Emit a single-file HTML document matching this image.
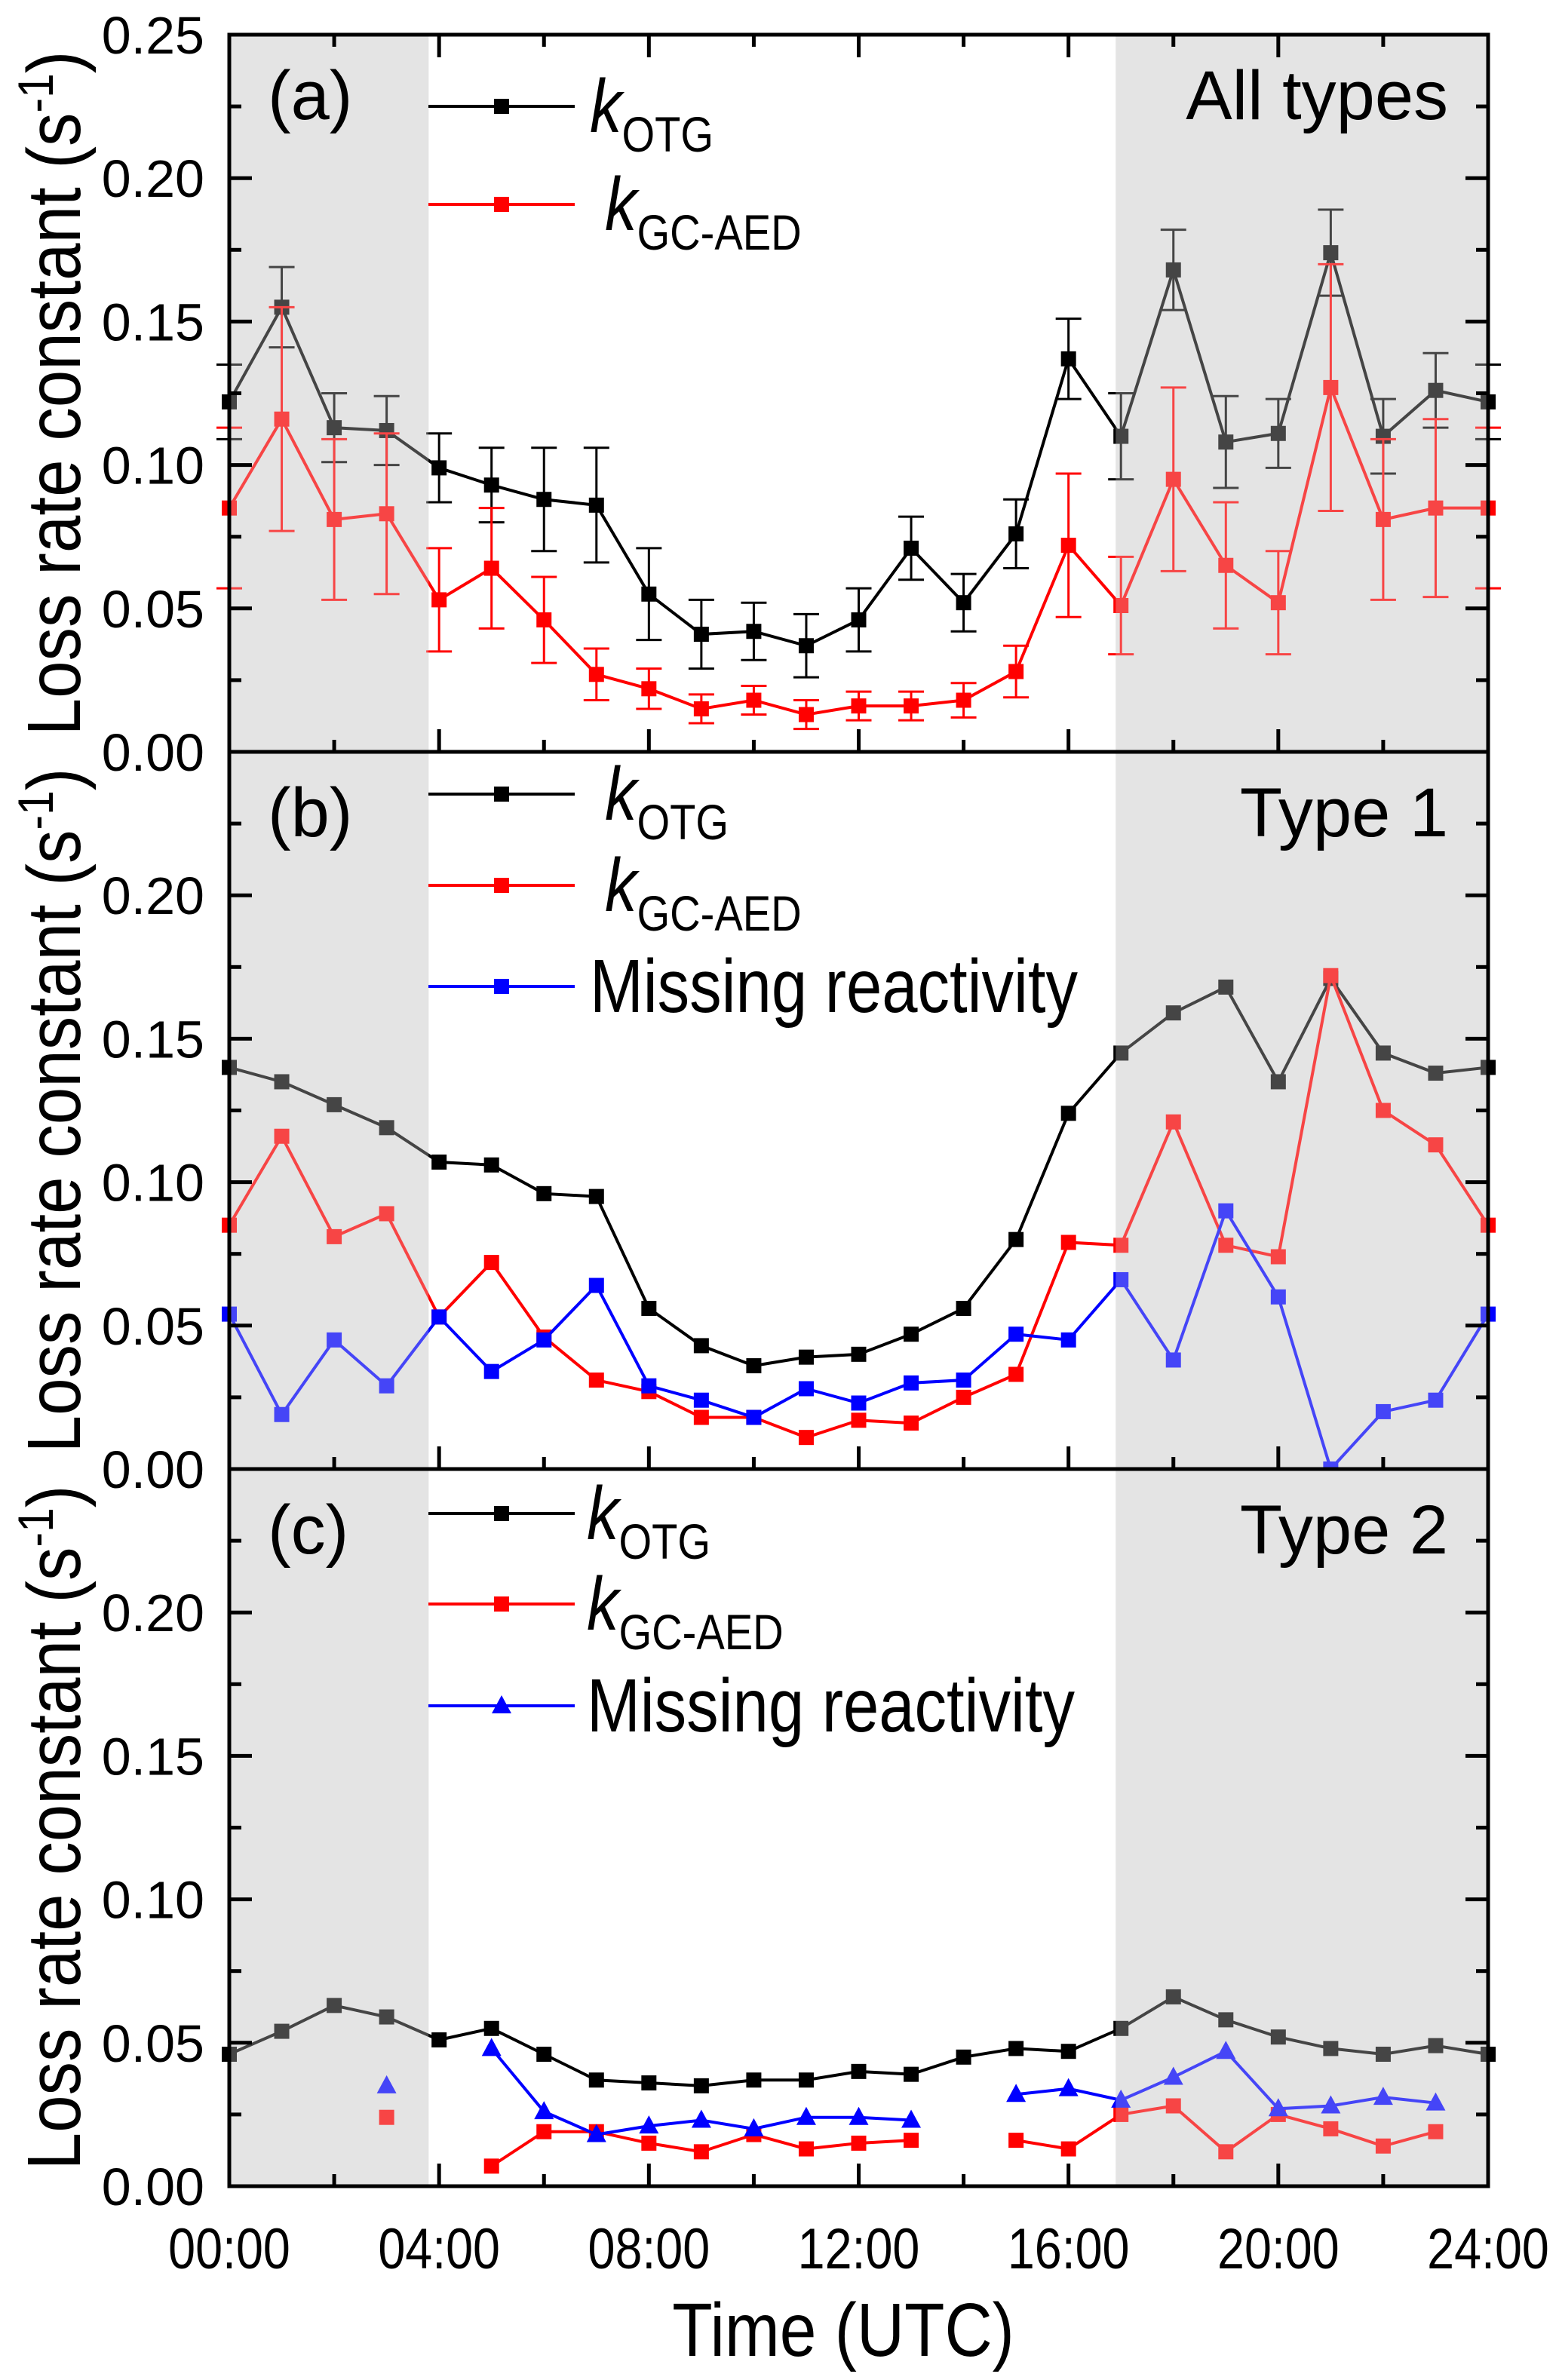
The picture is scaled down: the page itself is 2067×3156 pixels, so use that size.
<!DOCTYPE html>
<html><head><meta charset="utf-8"><style>
html,body{margin:0;padding:0;background:#fff}
svg{display:block}
text{font-family:"Liberation Sans",Arial,sans-serif}
</style></head><body>
<svg id="chart" width="2067" height="3156" viewBox="0 0 2067 3156" xmlns="http://www.w3.org/2000/svg"></svg>
<script>
const hours = [0,1,2,3,4,5,6,7,8,9,10,11,12,13,14,15,16,17,18,19,20,21,22,23,24];
const xTickLabels = ["00:00","04:00","08:00","12:00","16:00","20:00","24:00"];
const yTickLabels = ["0.00","0.05","0.10","0.15","0.20","0.25"];
const aOtg = [0.122,0.155,0.113,0.112,0.099,0.093,0.088,0.086,0.055,0.041,0.042,0.037,0.046,0.071,0.052,0.076,0.137,0.110,0.168,0.108,0.111,0.174,0.110,0.126,0.122];
const aOtgErr = [0.013,0.014,0.012,0.012,0.012,0.013,0.018,0.020,0.016,0.012,0.010,0.011,0.011,0.011,0.010,0.012,0.014,0.015,0.014,0.016,0.012,0.015,0.013,0.013,0.013];
const aGc = [0.085,0.116,0.081,0.083,0.053,0.064,0.046,0.027,0.022,0.015,0.018,0.013,0.016,0.016,0.018,0.028,0.072,0.051,0.095,0.065,0.052,0.127,0.081,0.085,0.085];
const aGcErr = [0.028,0.039,0.028,0.028,0.018,0.021,0.015,0.009,0.007,0.005,0.005,0.005,0.005,0.005,0.006,0.009,0.025,0.017,0.032,0.022,0.018,0.043,0.028,0.031,0.028];
const bOtg = [0.140,0.135,0.127,0.119,0.107,0.106,0.096,0.095,0.056,0.043,0.036,0.039,0.040,0.047,0.056,0.080,0.124,0.145,0.159,0.168,0.135,0.171,0.145,0.138,0.140];
const bGc = [0.085,0.116,0.081,0.089,0.053,0.072,0.046,0.031,0.027,0.018,0.018,0.011,0.017,0.016,0.025,0.033,0.079,0.078,0.121,0.078,0.074,0.172,0.125,0.113,0.085];
const bMiss = [0.054,0.019,0.045,0.029,0.053,0.034,0.045,0.064,0.029,0.024,0.018,0.028,0.023,0.030,0.031,0.047,0.045,0.066,0.038,0.090,0.060,0.000,0.020,0.024,0.054];
const cOtg = [0.046,0.054,0.063,0.059,0.051,0.055,0.046,0.037,0.036,0.035,0.037,0.037,0.040,0.039,0.045,0.048,0.047,0.055,0.066,0.058,0.052,0.048,0.046,0.049,0.046];
const cGc = [null,null,null,0.024,null,0.007,0.019,0.019,0.015,0.012,0.018,0.013,0.015,0.016,null,0.016,0.013,0.025,0.028,0.012,0.025,0.020,0.014,0.019,null];
const cMiss = [null,null,null,0.035,null,0.048,0.026,0.018,0.021,0.023,0.020,0.024,0.024,0.023,null,0.032,0.034,0.030,0.038,0.047,0.027,0.028,0.031,0.029,null];

const NS="http://www.w3.org/2000/svg";
const svg=document.getElementById('chart');
const X0=304,X1=1973,PH=951,TOPS=[46,997,1948];
function xs(h){return X0+(X1-X0)*h/24;}
function ys(v,p){return TOPS[p]+PH-(v/0.25)*PH;}
function mk(tag,attrs,parent){const e=document.createElementNS(NS,tag);for(const k in attrs)e.setAttribute(k,attrs[k]);(parent||svg).appendChild(e);return e;}

function series(p,vals,color,marker,name,errs){
  const g=mk('g',{});
  
  
  let seg=[];
  const segs=[];
  hours.forEach((h,i)=>{if(vals[i]===null){if(seg.length)segs.push(seg);seg=[];}else seg.push([xs(h),ys(vals[i],p)]);});
  if(seg.length)segs.push(seg);
  segs.forEach(s=>{if(s.length>1){const l=mk('polyline',{points:s.map(q=>q.join(',')).join(' '),fill:'none',stroke:color,'stroke-width':4},g);}});
  if(errs){hours.forEach((h,i)=>{const x=xs(h),y1=ys(vals[i]+errs[i],p),y2=ys(vals[i]-errs[i],p);
    const e=mk('path',{d:`M${x},${y1}V${y2}M${x-17},${y1}H${x+17}M${x-17},${y2}H${x+17}`,stroke:color,'stroke-width':3,fill:'none'},g);
    });}
  hours.forEach((h,i)=>{if(vals[i]===null)return;const x=xs(h),y=ys(vals[i],p);let m;
    if(marker==='sq')m=mk('rect',{x:x-10,y:y-10,width:20,height:20,fill:color},g);
    else m=mk('path',{d:`M${x},${y-14}L${x+13},${y+10}L${x-13},${y+10}Z`,fill:color},g);
    });
}

function legend(p,y,color,marker,label,sub,tx){
  const g=mk('g',{});
  
  
  mk('line',{x1:568,x2:762,y1:y,y2:y,stroke:color,'stroke-width':4},g);
  if(marker==='sq')mk('rect',{x:655,y:y-10,width:20,height:20,fill:color},g);
  else mk('path',{d:`M665,${y-14}L678,${y+10}L652,${y+10}Z`,fill:color},g);
  const t=mk('text',{x:0,y:0,'font-size':100,transform:`translate(${tx},${y+34}) scale(0.85,1)`},g);
  if(sub){const a=mk('tspan',{'font-style':'italic'},t);a.textContent=label;const b=mk('tspan',{dy:26,'font-size':66},t);b.textContent=sub;}
  else t.textContent=label;
}

const panelLabels=['(a)','(b)','(c)'];
const panelTitles=['All types','Type 1','Type 2'];
for(let p=0;p<3;p++){
  const top=TOPS[p],bot=top+PH;
  const bg=mk('g',{});
  
  
  mk('rect',{x:X0,y:top,width:xs(3.8)-X0,height:PH,fill:'#e4e4e4'},bg);
  mk('rect',{x:xs(16.9),y:top,width:X1-xs(16.9),height:PH,fill:'#e4e4e4'},bg);
  if(p===0){series(0,aOtg,'#000','sq','k-otg-series',aOtgErr);series(0,aGc,'#f00','sq','k-gc-aed-series',aGcErr);}
  if(p===1){series(1,bOtg,'#000','sq','k-otg-series');series(1,bGc,'#f00','sq','k-gc-aed-series');series(1,bMiss,'#00f','sq','missing-reactivity-series');}
  if(p===2){series(2,cOtg,'#000','sq','k-otg-series');series(2,cGc,'#f00','sq','k-gc-aed-series');series(2,cMiss,'#00f','tri','missing-reactivity-series');}
  const ov=mk('g',{});
  
  
  mk('rect',{x:X0,y:top,width:xs(3.8)-X0,height:PH,fill:'rgba(228,228,228,0.3)'},ov);
  mk('rect',{x:xs(16.9),y:top,width:X1-xs(16.9),height:PH,fill:'rgba(228,228,228,0.3)'},ov);
  const tk=mk('g',{stroke:'#000','stroke-width':5});
  
  
  for(let i=0;i<=10;i++){const v=i*0.025,y=ys(v,p),L=i%2?16:30;mk('line',{x1:X0,x2:X0+L,y1:y,y2:y},tk);mk('line',{x1:X1,x2:X1-L,y1:y,y2:y},tk);}
  for(let h=0;h<=24;h+=2){const L=h%4?16:30;mk('line',{x1:xs(h),x2:xs(h),y1:bot,y2:bot-L},tk);if(p===0)mk('line',{x1:xs(h),x2:xs(h),y1:top,y2:top+L},tk);}
  const fr=mk('rect',{x:X0,y:top,width:X1-X0,height:PH,fill:'none',stroke:'#000','stroke-width':5});
  
  
  yTickLabels.forEach((s,i)=>{if(p>0&&i===5)return;const t=mk('text',{x:271,y:ys(i*0.05,p)+25,'font-size':70,'text-anchor':'end'});t.textContent=s;
    });
  const yt=mk('text',{x:0,y:0,'font-size':100,'text-anchor':'middle',transform:`translate(106,${top+PH/2}) rotate(-90) scale(0.89,1)`});
  
  yt.appendChild(document.createTextNode('Loss rate constant (s'));
  const sp=mk('tspan',{dy:-36,'font-size':66},yt);sp.textContent='-1';
  const sp2=mk('tspan',{dy:36},yt);sp2.textContent=')';
  const pl=mk('text',{x:355,y:top+112,'font-size':92});pl.textContent=panelLabels[p];
  
  const pt=mk('text',{x:1920,y:top+112,'font-size':92,'text-anchor':'end'});pt.textContent=panelTitles[p];
  
}
legend(0,141,'#000','sq','k','OTG',782);
legend(0,271,'#f00','sq','k','GC-AED',802);
legend(1,1053,'#000','sq','k','OTG',802);
legend(1,1174,'#f00','sq','k','GC-AED',802);
legend(1,1308,'#00f','sq','Missing reactivity','',782);
legend(2,2007,'#000','sq','k','OTG',778);
legend(2,2127,'#f00','sq','k','GC-AED',778);
legend(2,2262,'#00f','tri','Missing reactivity','',778);
xTickLabels.forEach((s,i)=>{const t=mk('text',{x:0,y:0,'font-size':76,'text-anchor':'middle',transform:`translate(${xs(i*4)},3008) scale(0.85,1)`});t.textContent=s;
  });
const xt=mk('text',{x:0,y:0,'font-size':100,'text-anchor':'middle',transform:'translate(1118,3124) scale(0.875,1)'});xt.textContent='Time (UTC)';

</script>
</body></html>
